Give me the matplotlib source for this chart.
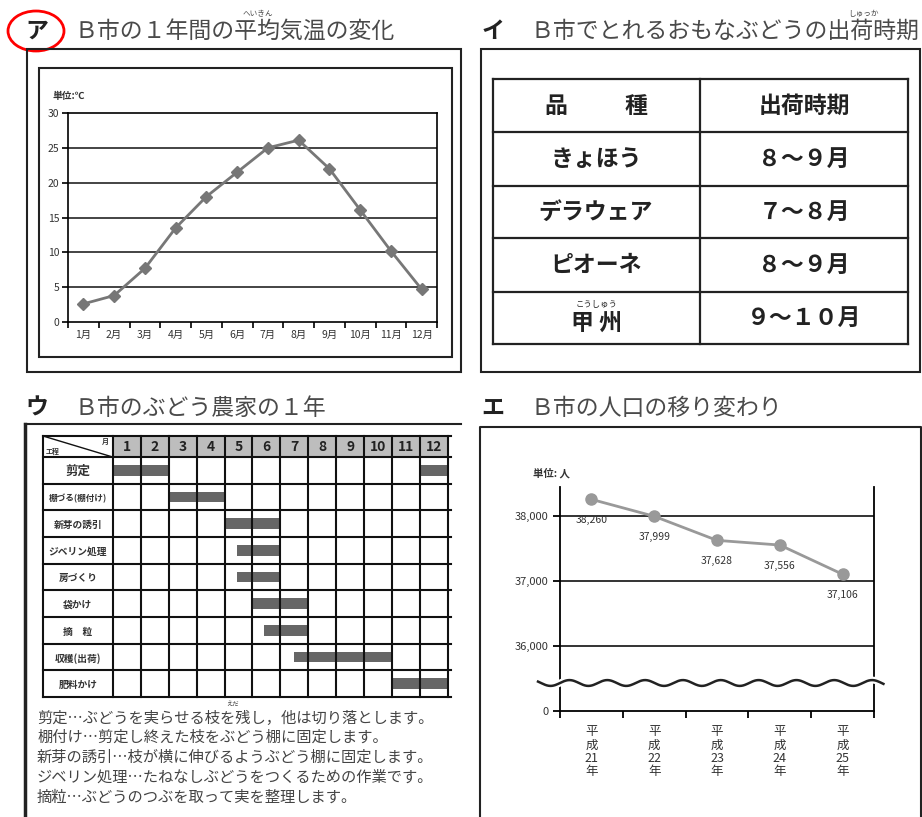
import numpy as np
import matplotlib
matplotlib.use('Agg')
import matplotlib.pyplot as plt
from matplotlib.patches import Rectangle, Ellipse

plt.rcParams['font.family'] = ['Noto Sans CJK JP', 'DejaVu Sans']

W, H = 922, 817

# ア: monthly mean temperature
months = ['1月', '2月', '3月', '4月', '5月', '6月', '7月', '8月', '9月', '10月', '11月', '12月']
temps = [2.6, 3.8, 7.7, 13.5, 18.0, 21.5, 25.0, 26.1, 22.0, 16.1, 10.2, 4.7]

# イ: shipping periods
varieties = ['きょほう', 'デラウェア', 'ピオーネ', '甲 州']
periods = ['８～９月', '７～８月', '８～９月', '９～１０月']

# ウ: work calendar (start month offset, length in months)
tasks = ['剪定', '棚づる(棚付け)', '新芽の誘引', 'ジベリン処理', '房づくり',
         '袋かけ', '摘　粒', '収穫(出荷)', '肥料かけ']
task_spans = [[(0, 2), (11, 1)], [(2, 2)], [(4, 2)], [(4.45, 1.55)], [(4.45, 1.55)],
              [(5, 2)], [(5.4, 1.6)], [(6.5, 3.5)], [(10, 2)]]
month_nums = [str(i) for i in range(1, 13)]
notes = ['剪定…ぶどうを実らせる枝を残し，他は切り落とします。',
         '棚付け…剪定し終えた枝をぶどう棚に固定します。',
         '新芽の誘引…枝が横に伸びるようぶどう棚に固定します。',
         'ジベリン処理…たねなしぶどうをつくるための作業です。',
         '摘粒…ぶどうのつぶを取って実を整理します。']

# エ: population
years = ['平\n成\n21\n年', '平\n成\n22\n年', '平\n成\n23\n年', '平\n成\n24\n年', '平\n成\n25\n年']
population = [38260, 37999, 37628, 37556, 37106]
pop_ticks = [0, 36000, 37000, 38000]
pop_ticklabels = ['0', '36,000', '37,000', '38,000']

fig = plt.figure(figsize=(W / 100, H / 100), dpi=100)


def px_axes(x0, y0, x1, y1):
    return fig.add_axes([x0 / W, 1 - y1 / H, (x1 - x0) / W, (y1 - y0) / H])


# overlay for frames, titles and table
ov = fig.add_axes([0, 0, 1, 1])
ov.set_xlim(0, W)
ov.set_ylim(H, 0)
ov.axis('off')

title_col = '#4a4a4a'
tfs = 16.5


def frame(x0, y0, x1, y1, lw=1.5):
    ov.add_patch(Rectangle((x0, y0), x1 - x0, y1 - y0, fill=False, ec='#222222', lw=lw))


def title(x_mark, x_text, y, mark, text):
    ov.text(x_mark, y, mark, fontsize=tfs, fontweight='bold', color='#222222', ha='center', va='center')
    ov.text(x_text, y, text, fontsize=tfs, color=title_col, ha='left', va='center')


# titles
title(37, 74, 31, 'ア', 'Ｂ市の１年間の平均気温の変化')
ov.text(258, 14, 'へいきん', fontsize=5.5, color=title_col, ha='center', va='center')
ov.add_patch(Ellipse((36, 31), 56, 40, fill=False, ec='red', lw=2))
title(493, 530, 31, 'イ', 'Ｂ市でとれるおもなぶどうの出荷時期')
ov.text(863, 14, 'しゅっか', fontsize=5.5, color=title_col, ha='center', va='center')
title(37, 74, 408, 'ウ', 'Ｂ市のぶどう農家の１年')
title(493, 530, 408, 'エ', 'Ｂ市の人口の移り変わり')

# frames
frame(27, 49, 461, 372)
frame(39, 68, 452, 357)
frame(481, 49, 920, 372)
ov.plot([25, 25], [424, 817], color='#222222', lw=2.5)
ov.plot([25, 461], [424, 424], color='#222222', lw=1.5)
ov.plot([480, 480, 921, 921], [817, 427, 427, 817], color='#222222', lw=1.5)

# ---- イ table ----
tx0, tx1, tx2 = 493, 700, 908
ty = [79, 132, 186, 238, 292, 344]
for yy in ty:
    ov.plot([tx0, tx2], [yy, yy], color='#222222', lw=1.6)
for xx in (tx0, tx1, tx2):
    ov.plot([xx, xx], [ty[0], ty[-1]], color='#222222', lw=1.6)
cfs = 16.5
ov.text(556, 106, '品', fontsize=cfs, fontweight='bold', color='#222222', ha='center', va='center')
ov.text(636, 106, '種', fontsize=cfs, fontweight='bold', color='#222222', ha='center', va='center')
ov.text(804, 106, '出荷時期', fontsize=cfs, fontweight='bold', color='#222222', ha='center', va='center')
for i, (v, p) in enumerate(zip(varieties, periods)):
    yc = (ty[i + 1] + ty[i + 2]) / 2
    yv = yc + (5 if i == 3 else 0)
    ov.text(596, yv, v, fontsize=cfs, fontweight='bold', color='#222222', ha='center', va='center')
    ov.text(804, yc, p, fontsize=cfs, fontweight='bold', color='#222222', ha='center', va='center')
ov.text(596, 304, 'こうしゅう', fontsize=6, color='#222222', ha='center', va='center')

# ---- ア line chart ----
ax1 = px_axes(68, 113, 437, 322)
x = np.arange(len(months))
for g in range(5, 30, 5):
    ax1.axhline(g, color='#111111', lw=1.1, zorder=1)
ax1.plot(x, temps, color='#777777', lw=2, marker='D', ms=6, zorder=3)
ax1.set_xlim(-0.5, len(months) - 0.5)
ax1.set_ylim(0, 30)
ax1.set_yticks(range(0, 31, 5))
ax1.set_xticks(x)
ax1.set_xticklabels(months)
ax1.set_xticks(np.arange(-0.5, len(months)), minor=True)
ax1.tick_params(axis='x', which='major', length=0, pad=6, labelsize=7.5, labelcolor='#333333')
ax1.tick_params(axis='x', which='minor', length=4, width=1.2, direction='out')
ax1.tick_params(axis='y', length=4, width=1.2, labelsize=7.5, labelcolor='#333333', pad=2)
for s in ax1.spines.values():
    s.set_linewidth(1.2)
ov.text(52, 96, '単位:℃', fontsize=7, fontweight='bold', color='#333333', ha='left', va='center')

# ---- ウ Gantt chart ----
ax3 = px_axes(43, 436, 448, 697)
ax3.set_xlim(-2.5, 12)
hh = 0.79
ax3.set_ylim(len(tasks), -hh)
ax3.axis('off')
for m in range(12):
    ax3.add_patch(Rectangle((m, -hh), 1, hh, fc='#bdbdbd', ec='none', zorder=1))
    ax3.text(m + 0.5, -hh / 2, month_nums[m], fontsize=10, fontweight='bold', color='#222222',
             ha='center', va='center', zorder=4)
for i, (t, spans) in enumerate(zip(tasks, task_spans)):
    ax3.broken_barh(spans, (i + 0.3, 0.4), facecolors='#666666', zorder=2)
    fs = 9 if len(t) <= 2 else (6.2 if len(t) > 7 else 7)
    ax3.text(-1.25, i + 0.55, t, fontsize=fs, fontweight='bold', color='#333333',
             ha='center', va='center')
for yy in [-hh] + list(range(len(tasks) + 1)):
    ax3.plot([-2.5, 12.1], [yy, yy], color='#111111', lw=1.5, zorder=3, clip_on=False)
for xx in [-2.5] + list(range(13)):
    ax3.plot([xx, xx], [-hh, len(tasks)], color='#111111', lw=1.5, zorder=3, clip_on=False)
ax3.plot([-2.5, 0], [-hh, 0], color='#111111', lw=1, zorder=3)
ax3.text(-2.4, -0.2, '工程', fontsize=5, fontweight='bold', color='#333333', ha='left', va='center')
ax3.text(-0.15, -0.6, '月', fontsize=5, fontweight='bold', color='#333333', ha='right', va='center')

for i, n in enumerate(notes):
    ov.text(37, 718 + i * 19.7, n, fontsize=11, color='#444444', ha='left', va='center')
ov.text(233, 704, 'えだ', fontsize=4.5, color='#444444', ha='center', va='center')


# ---- エ population chart (broken axis) ----
def fwd(v):
    v = np.asarray(v, dtype=float)
    return np.where(v < 36000, v / 36000.0, 1 + (v - 36000) / 1000.0)


def inv(y):
    y = np.asarray(y, dtype=float)
    return np.where(y < 1, y * 36000.0, 36000 + (y - 1) * 1000.0)


ax4 = px_axes(560, 487, 874, 711)
ax4.set_yscale('function', functions=(fwd, inv))
ax4.set_ylim(0, 38450)
ax4.set_xlim(0, len(population))
xp = np.arange(len(population)) + 0.5
for g in pop_ticks[1:]:
    ax4.axhline(g, color='#111111', lw=1.2, zorder=1)
ax4.plot(xp, population, color='#999999', lw=2, marker='o', ms=8, zorder=3)
for xi, p in zip(xp, population):
    ax4.annotate(f'{p:,}', (xi, p), xytext=(0, -15), textcoords='offset points',
                 ha='center', va='center', fontsize=7.5, color='#333333')
ax4.spines['top'].set_visible(False)
for s in ('left', 'right', 'bottom'):
    ax4.spines[s].set_linewidth(1.3)
ax4.set_yticks(pop_ticks)
ax4.set_yticklabels(pop_ticklabels)
ax4.yaxis.set_minor_locator(matplotlib.ticker.NullLocator())
ax4.set_xticks(xp)
ax4.set_xticklabels(years, linespacing=1.05)
ax4.set_xticks(np.arange(len(population) + 1), minor=True)
ax4.tick_params(axis='x', which='major', length=0, pad=10, labelsize=9, labelcolor='#333333')
ax4.tick_params(axis='x', which='minor', length=5, width=1.3, direction='out')
ax4.tick_params(axis='y', length=5, width=1.3, labelsize=8, labelcolor='#333333', pad=3)
for lab in ax4.get_xticklabels():
    lab.set_va('top')
# break mark
wx = np.linspace(-0.07, 1.03, 400)
wy = 0.125 + 0.013 * np.sin(2 * np.pi * wx * 8.3)
ax4.plot(wx, wy, transform=ax4.transAxes, color='white', lw=5, clip_on=False, zorder=4)
ax4.plot(wx, wy, transform=ax4.transAxes, color='#222222', lw=1.8, clip_on=False, zorder=5)
ov.text(533, 473, '単位: 人', fontsize=7.5, fontweight='bold', color='#333333', ha='left', va='center')

fig.savefig('out.png', dpi=100)
